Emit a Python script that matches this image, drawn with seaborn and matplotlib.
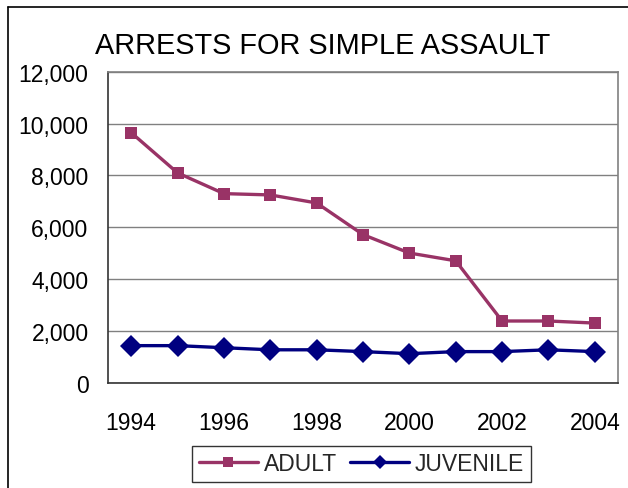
import matplotlib
matplotlib.use("Agg")
import matplotlib.pyplot as plt
from matplotlib.lines import Line2D
from matplotlib.ticker import FuncFormatter, FixedLocator
import seaborn as sns
import pandas as pd

years = [1994, 1995, 1996, 1997, 1998, 1999, 2000, 2001, 2002, 2003, 2004]
adult = [9650, 8100, 7300, 7250, 6940, 5720, 5010, 4710, 2390, 2390, 2310]
juvenile = [1440, 1440, 1360, 1280, 1280, 1210, 1130, 1210, 1210, 1280, 1210]
series_names = ["ADULT", "JUVENILE"]
tick_years = [1994, 1996, 1998, 2000, 2002, 2004]
y_ticks = [0, 2000, 4000, 6000, 8000, 10000, 12000]

df = pd.DataFrame({
    "year": years * 2,
    "arrests": adult + juvenile,
    "group": [series_names[0]] * len(years) + [series_names[1]] * len(years),
})

sns.set_style("white")
plt.rcParams["font.family"] = ["Liberation Sans", "DejaVu Sans"]

fig = plt.figure(figsize=(6.28, 4.89), dpi=100)
ax = fig.add_axes([108 / 628, 1 - 384 / 489, 510 / 628, (384 - 72.7) / 489])

palette = {"ADULT": "#993366", "JUVENILE": "#000080"}
marker_map = {"ADULT": "s", "JUVENILE": "D"}
sns.lineplot(
    data=df, x="year", y="arrests", hue="group", style="group",
    palette=palette, markers=marker_map,
    dashes=False, linewidth=2.4, markeredgewidth=0,
    ax=ax, legend=False,
)
# marker sizes per series
for line in ax.get_lines():
    if line.get_marker() == "D":
        line.set_markersize(11)
    else:
        line.set_markersize(8.3)

ax.set_xlim(1993.5, 2004.5)
ax.set_ylim(0, 12000)
ax.set_xlabel("")
ax.set_ylabel("")

ax.yaxis.set_major_locator(FixedLocator(y_ticks))
ax.yaxis.set_major_formatter(FuncFormatter(lambda v, p: f"{int(v):,}"))
ax.xaxis.set_major_locator(FixedLocator(tick_years))
ax.xaxis.set_minor_locator(FixedLocator([y + 0.5 for y in [1993] + years]))
ax.tick_params(axis="x", which="major", length=0, pad=20, labelsize=16.5, colors="black")
ax.tick_params(axis="x", which="minor", length=6, width=1, color="#333333", direction="out")
ax.tick_params(axis="y", which="major", length=6, width=1, color="#333333", direction="out",
               pad=8, labelsize=16.5, labelcolor="black")

ax.yaxis.grid(True, color="#808080", linewidth=1)
ax.set_axisbelow(True)

for side in ["left", "bottom"]:
    ax.spines[side].set_color("#333333")
    ax.spines[side].set_linewidth(1.2)
for side in ["top", "right"]:
    ax.spines[side].set_color("#808080")
    ax.spines[side].set_linewidth(1.2)
    ax.spines[side].set_visible(True)

fig.text(95 / 628, 1 - 54 / 489, "ARRESTS FOR SIMPLE ASSAULT", ha="left",
         va="baseline", fontsize=20.8, color="black")

handles = [
    Line2D([], [], color=palette["ADULT"], marker="s", markersize=7.2, linewidth=2.4, markeredgewidth=0),
    Line2D([], [], color=palette["JUVENILE"], marker="D", markersize=7, linewidth=2.4, markeredgewidth=0),
]
leg = fig.legend(handles, series_names, loc="center", bbox_to_anchor=(361.5 / 628, 1 - 465 / 489),
                 ncol=2, fontsize=16.5, frameon=True, fancybox=False, edgecolor="black",
                 handlelength=2.58, handletextpad=0.26, columnspacing=0.57, borderpad=0.3)
leg.get_frame().set_linewidth(1)

# outer chart frame
fig.add_artist(Line2D([8 / 628, 8 / 628], [0, 1 - 8 / 489], color="black", linewidth=1.2))
fig.add_artist(Line2D([8 / 628, 1], [1 - 8 / 489, 1 - 8 / 489], color="black", linewidth=1.2))

fig.savefig("out.png", dpi=100)
